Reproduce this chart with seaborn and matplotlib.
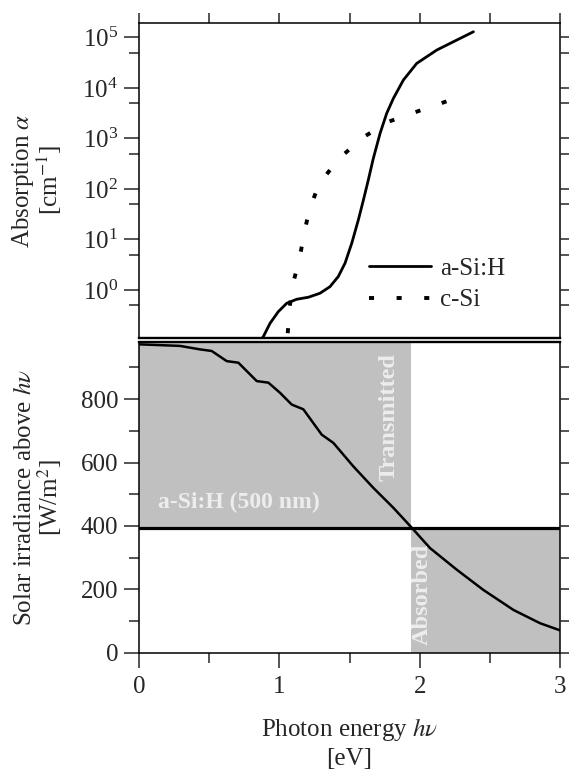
import numpy as np
import pandas as pd
import matplotlib
matplotlib.use("Agg")
import matplotlib.pyplot as plt
import seaborn as sns
from matplotlib.ticker import LogLocator, NullFormatter, MultipleLocator, FixedLocator

# 数据: a-Si:H 与 c-Si 吸收系数 (cm^-1)
asi_ev = [0.86, 0.886, 0.934, 0.993, 1.053, 1.124, 1.207, 1.29, 1.361, 1.42,
          1.468, 1.516, 1.563, 1.599, 1.634, 1.67, 1.718, 1.765, 1.813, 1.884,
          1.979, 2.122, 2.24, 2.383]
asi_alpha = [0.095, 0.119, 0.219, 0.372, 0.545, 0.653, 0.716, 0.86, 1.16, 1.84,
             3.37, 8.4, 24.3, 60, 150, 404, 1260, 3130, 6210, 14300,
             30500, 56100, 81800, 129000]

csi_ev = [1.06, 1.071, 1.095, 1.143, 1.176, 1.214, 1.285, 1.42, 1.599, 1.781,
          1.96, 2.14, 2.324]
csi_alpha = [0.139, 0.40, 1.26, 4.05, 12.7, 39.6, 126, 387, 1057, 2150,
             3240, 4820, 7270]

# 数据: 高于 hv 的太阳辐照度 (W/m^2)
sun_ev = [0.0, 0.292, 0.435, 0.518, 0.625, 0.708, 0.839, 0.922, 1.005, 1.088,
          1.171, 1.302, 1.385, 1.527, 1.670, 1.813, 1.936, 2.074, 2.264, 2.454,
          2.668, 2.858, 3.048]
sun_irr = [973, 968, 957, 952, 920, 915, 857, 852, 820, 783,
           768, 688, 662, 588, 520, 457, 398, 330, 262, 198,
           135, 93, 63]

cross_ev = 1.936   # 500 nm a-Si:H 透射/吸收分界
cross_irr = 395

sns.set_style("ticks")
plt.rcParams["font.family"] = ["Liberation Serif", "DejaVu Serif"]
plt.rcParams["mathtext.fontset"] = "stix"
plt.rcParams["axes.edgecolor"] = "black"

fig = plt.figure(figsize=(5.69, 7.71), dpi=100)
W, H = 569, 771
ax1 = fig.add_axes([139 / W, 1 - 337.9 / H, 421 / W, (337.9 - 22.7) / H])
ax2 = fig.add_axes([139 / W, 1 - 652.7 / H, 421 / W, (652.7 - 342.1) / H])

fs = 18

# ---- 上图: 吸收系数
sns.lineplot(x=asi_ev, y=asi_alpha, ax=ax1, color="black", lw=2.0, label="a-Si:H")
sns.lineplot(x=csi_ev, y=csi_alpha, ax=ax1, color="black", lw=2.8,
             linestyle=(0, (1.3, 5.8)), label="c-Si")
ax1.set_yscale("log")
ax1.set_xlim(0, 3)
ax1.set_ylim(10 ** -0.95, 10 ** 5.29)
ax1.yaxis.set_major_locator(LogLocator(base=10, numticks=10))
ax1.yaxis.set_minor_locator(LogLocator(base=10, subs=[5], numticks=10))
ax1.yaxis.set_minor_formatter(NullFormatter())
ax1.xaxis.set_major_locator(MultipleLocator(0.5))
ax1.tick_params(axis="x", bottom=False, top=True, labelbottom=False,
                direction="out", length=7, width=1.1)
ax1.tick_params(axis="y", which="major", length=11, width=1.1, labelsize=fs, pad=4)
ax1.tick_params(axis="y", which="minor", length=7, width=1.1)
ax1.set_ylabel("Absorption $\\alpha$\n[cm$^{-1}$]", fontsize=fs, linespacing=0.95)
ax1.yaxis.set_label_coords(-0.178, 0.5)
ax1.set_xlabel("")
for s in ["left", "right", "top"]:
    ax1.spines[s].set_linewidth(1.1)
ax1.spines["bottom"].set_linewidth(1.7)
ax1.legend(loc="upper left", bbox_to_anchor=(0.546, 0.255), frameon=False,
           fontsize=fs, handlelength=2.5, handletextpad=0.35, labelspacing=0.35,
           borderpad=0, borderaxespad=0)

# 右侧短刻度
r1 = ax1.twinx()
r1.set_yscale("log")
r1.set_ylim(ax1.get_ylim())
r1.yaxis.set_major_locator(LogLocator(base=10, numticks=10))
r1.yaxis.set_minor_locator(LogLocator(base=10, subs=[5], numticks=10))
r1.yaxis.set_major_formatter(NullFormatter())
r1.yaxis.set_minor_formatter(NullFormatter())
r1.tick_params(axis="y", which="both", length=7, width=1.1, labelright=False)
for s in r1.spines.values():
    s.set_visible(False)

# ---- 下图: 太阳辐照度
ymax = 980
ax2.fill_between([0, cross_ev], cross_irr, ymax, color="#c0c0c0", lw=0, zorder=0)
ax2.fill_between([cross_ev, 3], 0, cross_irr, color="#c0c0c0", lw=0, zorder=0)
ax2.axhline(cross_irr, color="black", lw=2.3, zorder=2)
sns.lineplot(x=sun_ev, y=sun_irr, ax=ax2, color="black", lw=1.8, zorder=3)
ax2.set_xlim(0, 3)
ax2.set_ylim(0, ymax)
ax2.xaxis.set_major_locator(FixedLocator([0, 1, 2, 3]))
ax2.xaxis.set_minor_locator(FixedLocator([0.5, 1.5, 2.5]))
ax2.yaxis.set_major_locator(FixedLocator([0, 200, 400, 600, 800]))
ax2.yaxis.set_minor_locator(FixedLocator([100, 300, 500, 700, 900]))
ax2.tick_params(axis="both", which="major", length=11, width=1.1, labelsize=fs)
ax2.tick_params(axis="both", which="minor", length=7, width=1.1)
ax2.tick_params(axis="x", pad=6)
ax2.tick_params(axis="y", pad=4)
ax2.set_ylabel("Solar irradiance above $h\\nu$\n[W/m$^2$]", fontsize=fs, linespacing=0.95)
ax2.yaxis.set_label_coords(-0.178, 0.5)
ax2.set_xlabel("Photon energy $h\\nu$\n[eV]", fontsize=fs, linespacing=1.25)
ax2.xaxis.set_label_coords(0.5, -0.205)
for s in ["left", "right", "bottom"]:
    ax2.spines[s].set_linewidth(1.1)
ax2.spines["top"].set_linewidth(1.7)

r2 = ax2.twinx()
r2.set_ylim(ax2.get_ylim())
r2.yaxis.set_major_locator(FixedLocator([0, 200, 400, 600, 800]))
r2.yaxis.set_minor_locator(FixedLocator([100, 300, 500, 700, 900]))
r2.yaxis.set_major_formatter(NullFormatter())
r2.yaxis.set_minor_formatter(NullFormatter())
r2.tick_params(axis="y", which="both", length=7, width=1.1, labelright=False)
for s in r2.spines.values():
    s.set_visible(False)

txt = "#ededed"
ax2.text(0.135, 473, "a-Si:H (500 nm)", color=txt, fontsize=17, fontweight="bold",
         ha="left", va="center", zorder=4)
ax2.text(1.78, 743, "Transmitted", color=txt, fontsize=17.5, fontweight="bold",
         rotation=90, ha="center", va="center", zorder=4)
ax2.text(2.015, 183, "Absorbed", color=txt, fontsize=17.5, fontweight="bold",
         rotation=90, ha="center", va="center", zorder=4)

fig.savefig("out.png", dpi=100)
